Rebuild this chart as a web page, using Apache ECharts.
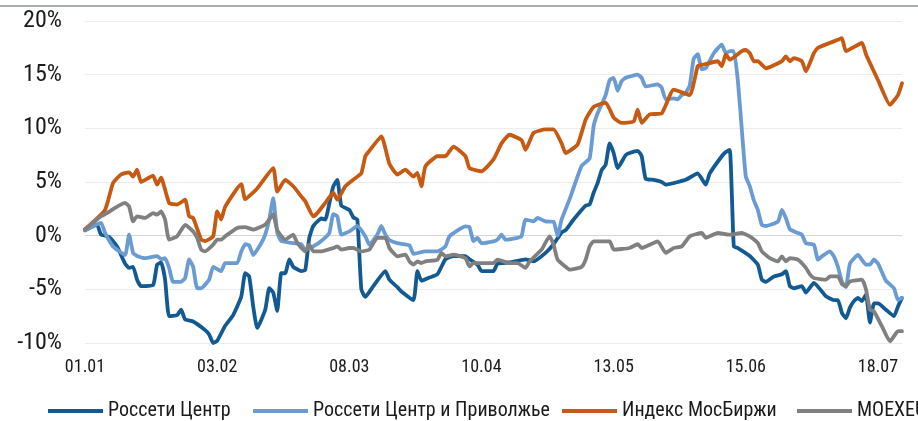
<!DOCTYPE html>
<html>
<head>
<meta charset="utf-8">
<script src="https://cdn.jsdelivr.net/npm/echarts@6/dist/echarts.min.js"></script>
<style>
  html, body { margin: 0; padding: 0; background: #fff; }
  #chart { width: 918px; height: 421px; }
</style>
</head>
<body>
<div id="chart"></div>
<script>
// день от 01.01 -> доходность, %
var tickLabels = ['01.01', '03.02', '08.03', '10.04', '13.05', '15.06', '18.07'];
var names = ['Россети Центр', 'Россети Центр и Приволжье', 'Индекс МосБиржи', 'MOEXEU'];

var rossetiCentr = [
  [0,0.5],[3,1.0],[4,0.1],[6,-0.1],[8,-1.0],[10,-2.6],[11,-3.0],[12,-2.9],[13,-4.1],[14,-4.7],
  [17,-4.6],[18,-2.7],[19,-2.5],[20,-4.1],[21,-7.5],[23,-7.4],[24,-6.9],[25,-7.8],[27,-8.0],
  [30,-8.8],[31,-9.2],[32,-10.0],[33,-9.8],[35,-8.4],[37,-7.4],[39,-5.7],[40,-3.5],[41,-3.8],
  [42,-6.6],[43,-8.6],[45,-6.9],[46,-4.9],[47,-5.3],[48,-7.0],[49,-3.5],[50,-3.5],[51,-2.2],
  [52,-2.9],[54,-3.3],[55,-3.2],[56,-0.2],[57,0.9],[59,1.6],[60,1.5],[61,3.0],[62,4.6],[63,5.2],
  [64,2.8],[66,2.4],[67,1.7],[68,1.5],[69,-5.0],[70,-5.7],[72,-4.7],[75,-3.3],[76,-4.1],[78,-4.8],
  [79,-5.2],[82,-6.0],[83,-3.3],[84,-4.2],[86,-3.9],[88,-3.6],[90,-2.2],[92,-1.9],[95,-1.9],
  [96,-2.2],[98,-2.7],[99,-3.3],[102,-3.3],[103,-2.6],[106,-2.5],[110,-2.2],[112,-2.4],[115,-1.6],
  [117,-0.8],[119,0.3],[120,0.5],[122,1.5],[125,2.8],[126,2.9],[127,4.0],[128,4.9],[129,6.1],
  [130,6.6],[131,8.6],[132,7.7],[133,6.3],[135,7.5],[136,7.7],[138,7.9],[139,7.4],[140,5.3],
  [142,5.2],[144,5.0],[145,4.75],[147,4.9],[148,5.0],[150,5.2],[153,5.8],[155,4.75],[156,5.8],
  [159,7.4],[160,7.8],[161,8.0],[162,-1.0],[163,-1.15],[166,-1.9],[168,-2.7],[169,-4.1],[170,-4.3],
  [172,-3.8],[174,-3.6],[175,-3.3],[176,-4.7],[177,-4.9],[179,-4.7],[180,-5.3],[182,-4.4],
  [184,-5.2],[185,-5.65],[187,-6.0],[188,-6.0],[189,-7.2],[190,-7.7],[191,-6.7],[192,-6.1],
  [193,-5.8],[194,-6.1],[195,-5.5],[196,-8.1],[197,-6.3],[198,-6.3],[200,-6.9],[202,-7.5],
  [203,-6.6],[204,-5.8]
];

var rossetiPrivolzhye = [
  [0,0.5],[4,1.2],[5,0.25],[7,-1.0],[10,-1.8],[11,0.1],[12,-1.6],[13,-1.9],[15,-2.1],[18,-1.9],
  [19,-2.2],[20,-2.1],[21,-3.0],[22,-4.3],[24,-4.3],[25,-3.95],[26,-2.2],[27,-2.9],[28,-4.9],
  [29,-4.9],[31,-4.1],[32,-2.9],[34,-3.3],[35,-2.55],[38,-2.55],[39,-1.5],[40,-0.8],[41,-0.9],
  [42,-1.8],[44,-0.7],[45,0.1],[46,1.5],[47,3.5],[48,0.3],[49,-0.5],[52,-0.7],[54,-0.8],[55,-1.3],
  [57,-1.0],[59,-0.5],[61,0.25],[62,2.0],[63,1.8],[64,0.1],[66,0.4],[68,0.9],[70,-0.06],[71,-0.84],
  [73,0.1],[74,0.9],[75,0.1],[76,-0.4],[78,-0.7],[81,-0.9],[82,-1.7],[85,-1.46],[88,-1.46],
  [90,-1.0],[91,-0.06],[95,0.87],[96,0.8],[97,-0.5],[98,-0.2],[99,-0.7],[102,-0.53],[103,-0.37],
  [104,0.09],[105,-0.37],[108,-0.2],[109,-0.06],[110,1.5],[112,1.33],[113,1.65],[115,1.33],
  [117,1.3],[118,0.0],[119,1.5],[121,3.4],[124,6.5],[126,7.2],[127,10.2],[128,11.4],[130,13.1],
  [131,14.5],[132,14.7],[133,13.5],[134,14.4],[135,14.7],[138,15.0],[139,14.7],[140,13.9],
  [143,14.1],[144,13.8],[145,12.7],[147,12.8],[148,12.7],[149,13.1],[150,13.3],[151,14.0],
  [152,16.5],[153,16.9],[154,15.5],[155,15.6],[157,17.0],[159,17.8],[160,17.0],[161,17.2],
  [162,17.2],[163,14.5],[164,9.9],[165,5.5],[166,4.6],[167,3.3],[168,2.4],[169,1.0],[170,0.9],
  [173,1.3],[174,2.4],[175,1.65],[176,0.6],[178,0.25],[179,0.1],[180,-0.7],[182,-0.84],
  [183,-2.24],[184,-1.93],[186,-1.46],[187,-1.93],[188,-2.9],[189,-4.3],[190,-4.8],[191,-2.6],
  [193,-1.8],[195,-2.7],[196,-2.7],[197,-2.2],[198,-2.6],[199,-3.4],[200,-4.2],[202,-4.9],
  [203,-6.0],[204,-5.8]
];

var moex = [
  [0,0.6],[5,2.4],[7,4.9],[9,5.7],[11,5.9],[12,5.5],[13,6.15],[14,5.0],[16,5.4],[17,5.6],[18,4.75],
  [19,5.4],[21,3.05],[23,2.9],[25,3.35],[26,1.8],[27,1.65],[29,-0.37],[30,-0.5],[32,-0.06],
  [33,2.26],[34,1.5],[35,2.7],[39,4.8],[40,3.4],[43,4.4],[47,6.3],[48,4.1],[50,5.2],[52,4.6],
  [54,3.66],[55,3.2],[57,1.8],[58,2.1],[60,3.05],[62,4.0],[63,3.35],[65,4.6],[68,5.5],[69,5.8],
  [70,7.4],[71,7.9],[74,9.25],[76,6.7],[78,5.7],[80,6.15],[82,5.5],[83,5.85],[84,4.6],[85,6.46],
  [88,7.4],[90,7.4],[91,7.86],[92,8.3],[95,7.4],[96,6.3],[99,6.0],[102,7.1],[104,8.6],[106,9.4],
  [109,8.9],[110,8.0],[112,9.57],[115,9.9],[117,9.9],[119,8.6],[120,7.7],[123,8.5],[125,10.8],
  [127,12.0],[130,12.4],[132,11.0],[134,10.5],[137,10.65],[138,11.75],[139,10.5],[141,11.3],
  [144,11.4],[147,13.6],[151,13.1],[153,15.8],[154,15.9],[158,16.25],[159,15.8],[160,16.9],
  [161,16.4],[164,17.2],[165,17.3],[166,17.0],[167,16.25],[168,16.25],[170,15.6],[174,16.25],
  [175,16.7],[176,16.25],[177,16.55],[179,16.25],[180,15.3],[182,17.0],[183,17.5],[188,18.25],
  [189,18.4],[190,17.2],[194,17.95],[195,16.9],[198,14.5],[201,12.2],[203,13.1],[204,14.2]
];

var moexeu = [
  [0,0.56],[4,1.8],[5,2.0],[10,3.05],[11,2.73],[12,1.33],[13,1.8],[15,1.65],[17,2.1],[18,1.96],
  [19,2.26],[20,1.5],[21,-0.37],[23,-0.06],[25,1.0],[27,0.4],[28,-0.2],[29,-1.3],[30,-1.46],
  [32,-0.84],[33,-0.37],[34,-0.37],[35,-0.06],[38,0.72],[40,0.8],[42,0.56],[45,1.03],[46,1.5],
  [47,2.0],[48,0.5],[50,-0.37],[52,0.09],[53,-0.68],[55,-1.46],[56,-0.84],[57,-1.46],[59,-1.46],
  [62,-1.15],[63,-1.0],[64,-1.3],[66,-1.15],[67,-1.15],[69,-1.46],[71,-1.3],[73,-0.2],[75,-0.2],
  [76,-1.15],[77,-1.6],[78,-1.93],[80,-1.77],[81,-2.4],[82,-2.7],[83,-2.4],[84,-2.55],[85,-2.4],
  [88,-2.24],[89,-1.6],[90,-1.93],[92,-1.77],[95,-2.1],[96,-2.86],[97,-2.55],[102,-2.55],
  [103,-2.24],[106,-2.55],[108,-2.55],[110,-3.0],[111,-2.4],[114,-1.3],[116,-0.06],[117,-0.84],
  [118,-2.24],[120,-2.9],[121,-3.17],[124,-2.9],[125,-2.24],[126,-1.0],[127,-0.53],[131,-0.53],
  [132,-1.3],[136,-1.15],[138,-0.8],[139,-1.15],[143,-0.53],[145,-1.6],[147,-1.15],[149,-1.0],
  [151,-0.06],[154,0.25],[155,-0.2],[158,0.25],[161,0.09],[164,0.25],[166,-0.06],[168,-0.68],
  [169,-1.46],[171,-2.1],[173,-2.4],[174,-1.93],[175,-2.4],[176,-2.1],[178,-2.24],[180,-3.0],
  [181,-3.6],[182,-3.95],[185,-4.1],[186,-3.8],[188,-3.8],[189,-4.5],[190,-4.7],[191,-4.26],
  [194,-4.1],[195,-5.0],[196,-6.9],[197,-7.05],[199,-8.45],[201,-9.85],[203,-8.9],[204,-8.9]
];

var colors = ['#135a92', '#6a9bd2', '#c65a12', '#808080'];
var seriesData = [rossetiCentr, rossetiPrivolzhye, moex, moexeu];
var FONT = "'Roboto Condensed', 'DejaVu Sans Condensed', 'Liberation Sans', sans-serif";

var legendLeft = [43, 248, 557, 792];
var legends = names.map(function (n, i) {
  return {
    data: [n],
    left: legendLeft[i],
    top: 396,
    icon: 'rect',
    itemWidth: 55,
    itemHeight: 4,
    itemGap: 0,
    selectedMode: false,
    textStyle: { fontFamily: FONT, fontSize: 20, color: '#1a1a1a' }
  };
});

var series = names.map(function (n, i) {
  return {
    name: n,
    type: 'line',
    data: seriesData[i],
    showSymbol: false,
    symbol: 'none',
    smooth: 0.15,
    color: colors[i],
    lineStyle: { width: 3.8, color: colors[i], cap: 'round', join: 'round' },
    emphasis: { disabled: true },
    animation: false
  };
});

var myChart = echarts.init(document.getElementById('chart'));
myChart.setOption({
  animation: false,
  backgroundColor: '#ffffff',
  graphic: [{
    type: 'line',
    shape: { x1: 0, y1: 6, x2: 918, y2: 6 },
    style: { stroke: '#a8abaf', lineWidth: 2 }
  }],
  legend: legends,
  grid: { left: 85, right: 16, top: 21, bottom: 78 },
  xAxis: {
    type: 'value',
    min: 0,
    max: 204,
    interval: 33,
    axisLine: { show: false },
    axisTick: { show: false },
    splitLine: { show: false },
    axisLabel: {
      margin: 15,
      showMaxLabel: false,
      fontFamily: FONT,
      fontSize: 18,
      color: '#1a1a1a',
      formatter: function (v) { return v % 33 === 0 ? tickLabels[v / 33] : ''; }
    }
  },
  yAxis: {
    type: 'value',
    min: -10,
    max: 20,
    interval: 5,
    axisLine: { show: false },
    axisTick: { show: false },
    axisLabel: {
      margin: 23,
      fontFamily: FONT,
      fontSize: 24,
      color: '#1a1a1a',
      formatter: '{value}%'
    },
    splitLine: {
      lineStyle: {
        width: 1,
        color: ['#ececec', '#ececec', '#d6d6d6', '#ececec', '#ececec', '#ececec', '#ececec']
      }
    }
  },
  series: series
});
</script>
</body>
</html>
